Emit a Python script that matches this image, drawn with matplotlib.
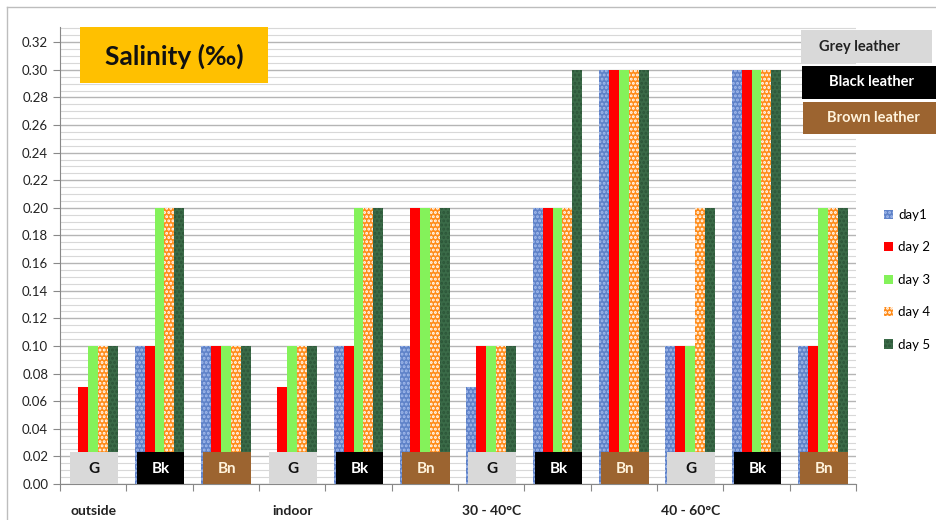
import matplotlib
matplotlib.use("Agg")
import matplotlib.pyplot as plt
from matplotlib.patches import Rectangle
from matplotlib.lines import Line2D
import numpy as np

plt.rcParams["font.family"] = ["Lato", "DejaVu Sans"]
plt.rcParams["hatch.linewidth"] = 1.4

# --- data ---
groups = ["outside", "", "", "indoor", "", "",
          "30 - 40°C", "", "", "40 - 60°C", "", ""]
leather_tags = ["G", "Bk", "Bn"] * 4
days = ["day1", "day 2", "day 3", "day 4", "day 5"]

day1 = [0.00, 0.10, 0.10, 0.00, 0.10, 0.10, 0.07, 0.20, 0.30, 0.10, 0.30, 0.10]
day2 = [0.07, 0.10, 0.10, 0.07, 0.10, 0.20, 0.10, 0.20, 0.30, 0.10, 0.30, 0.10]
day3 = [0.10, 0.20, 0.10, 0.10, 0.20, 0.20, 0.10, 0.20, 0.30, 0.10, 0.30, 0.20]
day4 = [0.10, 0.20, 0.10, 0.10, 0.20, 0.20, 0.10, 0.20, 0.30, 0.20, 0.30, 0.20]
day5 = [0.10, 0.20, 0.10, 0.10, 0.20, 0.20, 0.10, 0.30, 0.30, 0.20, 0.30, 0.20]
series = [day1, day2, day3, day4, day5]

# bar styles: (face, hatch colour, hatch)
styles = [
    ("#5f82c8", "#a3bbec", "...."),
    ("#ff0000", "#ff0000", None),
    ("#84f25a", "#84f25a", None),
    ("#ff8c1a", "#ffffff", "...."),
    ("#3b6b48", "#2c5538", "...."),
]

tag_colors = {"G": ("#d9d9d9", "#111111"),
              "Bk": ("#000000", "#ffffff"),
              "Bn": ("#9c6430", "#fff3dc")}

W, H = 937, 520
fig = plt.figure(figsize=(W / 100, H / 100), dpi=100)
ax = fig.add_axes([60 / W, 1 - 484 / H, (856 - 60) / W, (484 - 27) / H])

x = np.arange(len(groups))
bw = 0.15
handles = []
for i, vals in enumerate(series):
    face, hcol, hatch = styles[i]
    b = ax.bar(x + (i - 2) * bw, vals, bw, color=face, edgecolor=hcol,
               hatch=hatch, linewidth=0, zorder=3, label=days[i])
    handles.append(b)

# leather tag boxes at bottom of each group
for xi, tag in zip(x, leather_tags):
    fc, tc = tag_colors[tag]
    ax.add_patch(Rectangle((xi - 0.345, 0.0), 0.72, 0.0232, facecolor=fc,
                           edgecolor="none", zorder=5))
    ax.text(xi + 0.015, 0.0112, tag, ha="center", va="center", fontsize=11,
            fontweight="bold", color=tc, zorder=6)

ax.set_xlim(-0.5, len(groups) - 0.5)
ax.set_ylim(0, 0.331)

ax.set_yticks(np.arange(0, 0.3201, 0.02))
ax.set_yticklabels([f"{v:.2f}" for v in np.arange(0, 0.3201, 0.02)])
ax.set_yticks(np.arange(0, 0.331, 0.005), minor=True)
ax.grid(axis="y", which="major", color="#b5b5b5", linewidth=1.0, zorder=0)
ax.grid(axis="y", which="minor", color="#d8d8d8", linewidth=0.8, zorder=0)

ax.set_xticks(np.arange(-0.5, len(groups)), labels=[""] * (len(groups) + 1))
ax.set_xticks(x, labels=groups, minor=True)
ax.tick_params(axis="x", which="major", length=5, color="#888888")
ax.tick_params(axis="x", which="minor", length=0, pad=15,
               labelsize=10, labelcolor="#222222")
for lab in ax.get_xticklabels(minor=True):
    lab.set_fontweight("bold")
ax.tick_params(axis="y", which="major", length=5, color="#888888",
               labelsize=9.5, labelcolor="#222222")
ax.tick_params(axis="y", which="minor", length=0)

for s in ["top", "right"]:
    ax.spines[s].set_visible(False)
for s in ["left", "bottom"]:
    ax.spines[s].set_color("#888888")

# title box
fig.patches.append(Rectangle((80 / W, 1 - 83 / H), 188 / W, 56 / H,
                             transform=fig.transFigure, facecolor="#ffc000",
                             edgecolor="none", zorder=5))
fig.text(174 / W, 1 - 56 / H, "Salinity (‰)", ha="center", va="center",
         fontsize=19, fontweight="bold", color="#111111", zorder=6)

# leather key boxes, top right
keys = [("Grey leather", "#d9d9d9", "#222222", 801, 30, 131, 33, 860),
        ("Black leather", "#000000", "#ffffff", 802, 66, 135, 33, 872),
        ("Brown leather", "#9c6430", "#fff3dc", 803, 102, 134, 32, 873)]
for txt, fc, tc, x0, y0, w, h, xt in keys:
    fig.patches.append(Rectangle((x0 / W, 1 - (y0 + h) / H), w / W, h / H,
                                 transform=fig.transFigure, facecolor=fc,
                                 edgecolor="none", zorder=5))
    fig.text(xt / W, 1 - (y0 + h / 2) / H, txt, ha="center", va="center",
             fontsize=10.5, fontweight="bold", color=tc, zorder=6)

# outer chart border
fig.add_artist(Line2D([7 / W, 7 / W], [0, 1 - 7 / H], transform=fig.transFigure,
                      color="#bdbdbd", linewidth=1))
fig.add_artist(Line2D([7 / W, 1], [1 - 7 / H, 1 - 7 / H],
                      transform=fig.transFigure, color="#bdbdbd", linewidth=1))

fig.legend(handles=handles, loc="upper left",
           bbox_to_anchor=(872 / W, 1 - 197 / H), frameon=False,
           fontsize=9.5, handlelength=0.7, handleheight=0.7,
           handletextpad=0.4, labelspacing=1.55)

fig.savefig("out.png", dpi=100)
